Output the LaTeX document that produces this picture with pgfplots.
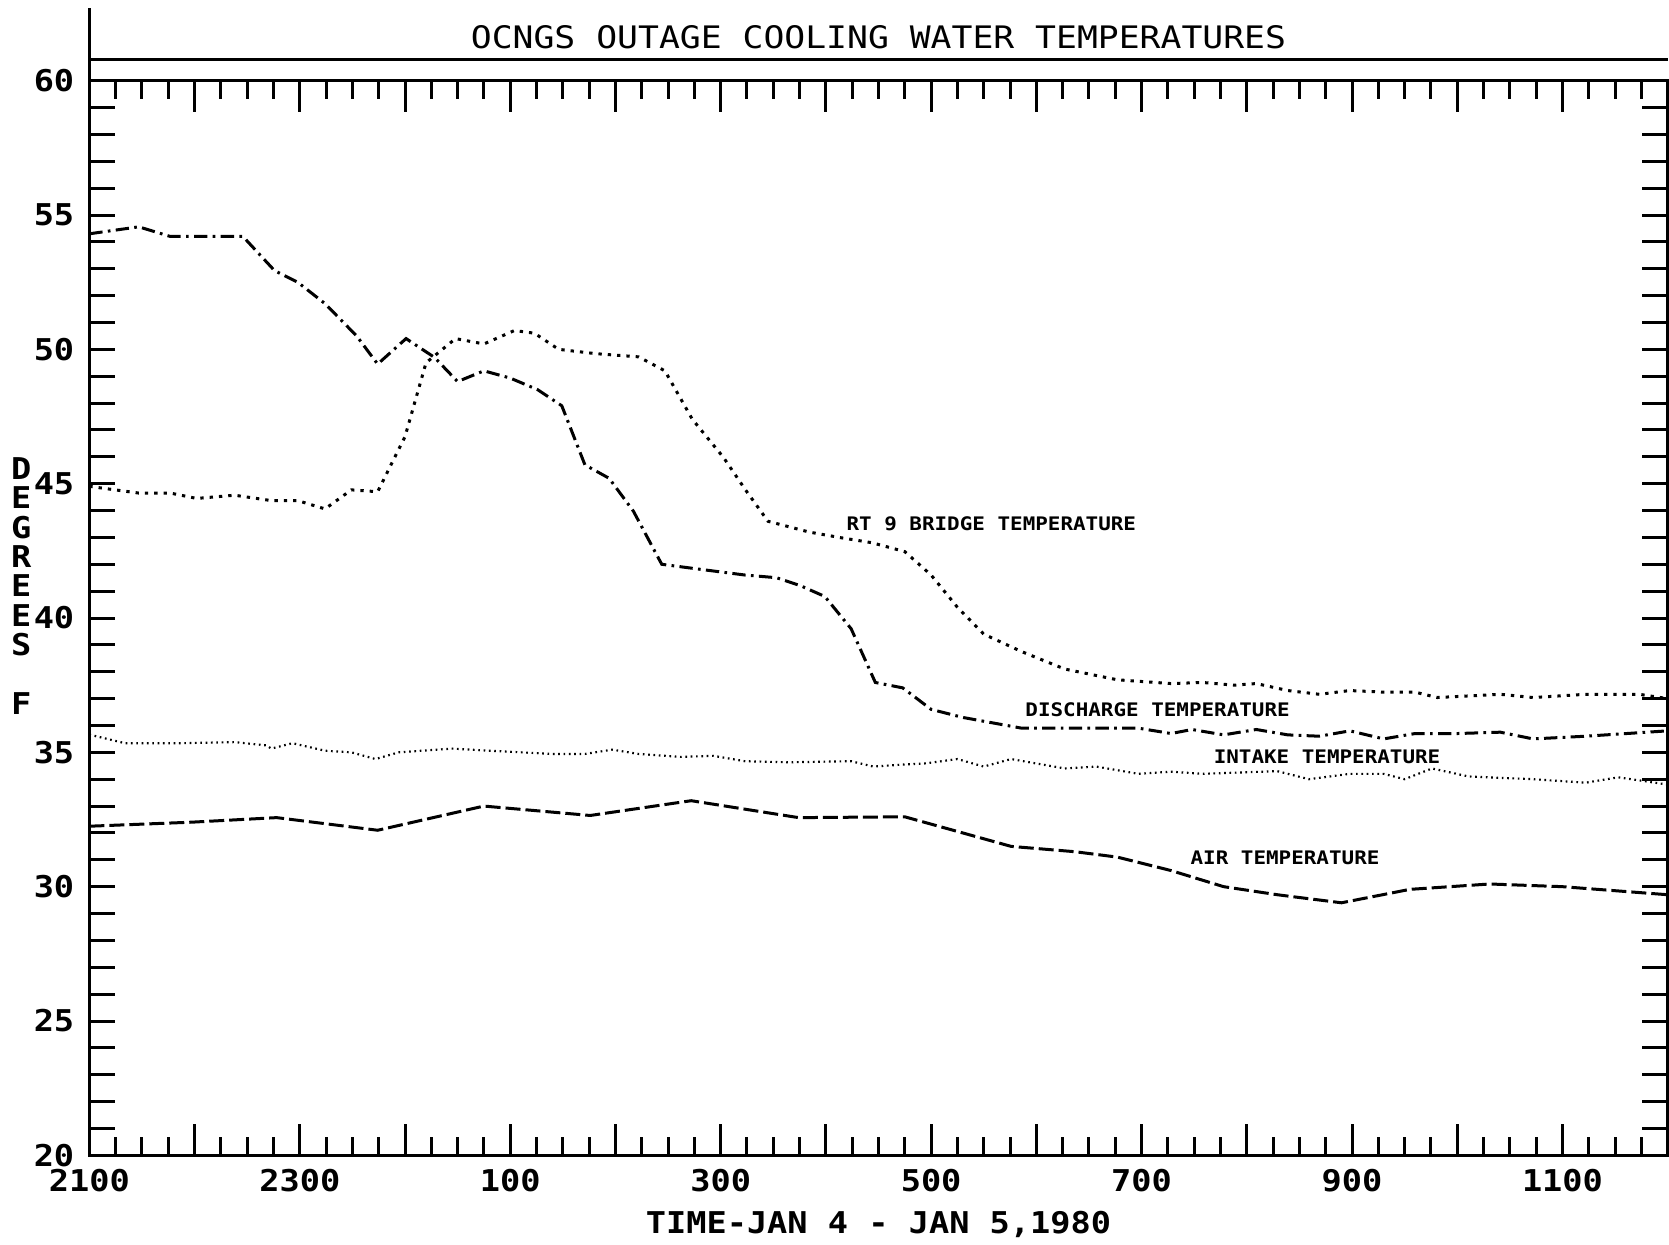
\documentclass[border=0pt]{standalone}
\usepackage{fontspec}
\setmainfont{DejaVu Sans Mono}[FakeStretch=1.12]
\usepackage{pgfplots}
\pgfplotsset{compat=1.18}

\pgfplotstableread{
x y
0 54.3
0.47 54.56
0.77 54.2
1.46 54.2
1.76 52.93
1.98 52.5
2.24 51.7
2.54 50.5
2.74 49.45
3.01 50.4
3.28 49.7
3.5 48.8
3.75 49.2
4.0 48.93
4.26 48.5
4.49 47.9
4.71 45.7
4.94 45.2
5.17 43.98
5.44 42.0
5.83 41.8
6.23 41.6
6.53 41.5
6.76 41.2
6.99 40.8
7.24 39.6
7.47 37.6
7.73 37.4
8.0 36.6
8.3 36.3
8.86 35.9
9.27 35.9
9.97 35.9
10.28 35.7
10.48 35.85
10.78 35.65
11.09 35.85
11.39 35.65
11.69 35.6
11.98 35.8
12.3 35.5
12.6 35.7
13.0 35.7
13.41 35.75
13.72 35.5
14.22 35.6
15.0 35.8
}\discharge

\pgfplotstableread{
x y
0 44.9
0.47 44.65
0.77 44.65
1.02 44.45
1.38 44.57
1.73 44.37
1.98 44.37
2.24 44.06
2.49 44.77
2.74 44.7
3.0 46.75
3.2 49.5
3.48 50.4
3.75 50.2
4.04 50.7
4.23 50.6
4.46 50.0
4.81 49.84
5.22 49.72
5.47 49.2
5.73 47.4
6.03 45.96
6.23 44.8
6.45 43.6
6.84 43.2
7.14 42.99
7.44 42.8
7.75 42.47
8.0 41.6
8.25 40.4
8.5 39.4
8.86 38.75
9.27 38.1
9.77 37.7
10.28 37.56
10.58 37.6
10.88 37.5
11.09 37.56
11.39 37.3
11.69 37.16
11.98 37.3
12.3 37.24
12.6 37.24
12.81 37.04
13.11 37.1
13.41 37.16
13.72 37.04
14.22 37.16
14.73 37.16
15.0 37.0
}\bridge

\pgfplotstableread{
x y
0 35.66
0.34 35.34
0.87 35.34
1.38 35.38
1.68 35.26
1.73 35.14
1.93 35.34
2.24 35.06
2.49 35.0
2.72 34.75
2.94 35.0
3.45 35.14
3.8 35.06
4.41 34.94
4.71 34.94
4.97 35.1
5.22 34.94
5.62 34.83
5.93 34.87
6.23 34.67
6.64 34.63
7.24 34.67
7.45 34.47
7.75 34.55
7.95 34.59
8.25 34.75
8.5 34.47
8.76 34.75
9.27 34.4
9.57 34.47
9.97 34.2
10.28 34.28
10.58 34.2
11.29 34.3
11.59 34.0
11.98 34.2
12.3 34.2
12.5 34.0
12.76 34.4
13.11 34.1
13.72 34.0
14.22 33.87
14.53 34.07
15.0 33.8
}\intake

\pgfplotstableread{
x y
0 32.25
0.97 32.4
1.78 32.57
2.74 32.1
3.75 33.0
4.76 32.65
5.72 33.2
6.74 32.57
7.75 32.6
8.76 31.5
9.37 31.3
9.77 31.1
10.28 30.6
10.78 30.0
11.29 29.7
11.9 29.4
12.55 29.9
13.31 30.1
14.0 30.0
15.0 29.7
}\air

\begin{document}
\begin{tikzpicture}
\useasboundingbox (0,0) rectangle (500.7pt,373.2pt);
\begin{axis}[
  at={(26.8pt,26.6pt)}, anchor=south west,
  scale only axis, width=473.5pt, height=322.4pt,
  xmin=0, xmax=15, ymin=20, ymax=60,
  clip=false,
  axis line style={line width=1pt},
  every tick/.style={black, line width=0.9pt},
  major tick length=9.5pt, minor tick length=5.5pt,
  xtick={0,1,2,3,4,5,6,7,8,9,10,11,12,13,14,15},
  xticklabels={2100,,2300,,100,,300,,500,,700,,900,,1100,},
  minor x tick num=3,
  ytick=\empty,
  extra y ticks={20,21,22,23,24,25,26,27,28,29,30,31,32,33,34,35,36,37,38,39,40,41,42,43,44,45,46,47,48,49,50,51,52,53,54,55,56,57,58,59,60},
  extra y tick labels={20,,,,,25,,,,,30,,,,,35,,,,,40,,,,,45,,,,,50,,,,,55,,,,,60},
  extra y tick style={major tick length=7.6pt},
  /pgf/number format/assume math mode=true,
  xticklabel style={font=\bfseries\fontsize{9}{10}\selectfont, yshift=-0.5pt},
  yticklabel style={font=\bfseries\fontsize{9}{10}\selectfont, xshift=-1pt},
]
\addplot[black, line width=0.9pt, dash pattern=on 4pt off 1.6pt on 0.8pt off 1.6pt] table {\discharge};
\addplot[black, line width=0.9pt, dash pattern=on 1pt off 1.8pt] table {\bridge};
\addplot[black, line width=0.65pt, dash pattern=on 0.5pt off 1.1pt] table {\intake};
\addplot[black, line width=0.9pt, dash pattern=on 4.5pt off 1.5pt] table {\air};

\draw[line width=1pt] (axis cs:0,60.78) -- (axis cs:15,60.78);
\draw[line width=1pt] (axis cs:0,60) -- (axis cs:0,62.7);
\node[font=\fontsize{9.3}{11}\selectfont] at (axis cs:7.5,61.6) {OCNGS OUTAGE COOLING WATER TEMPERATURES};
\node[font=\bfseries\fontsize{9}{10}\selectfont] at (axis cs:7.5,17.43) {TIME-JAN 4 - JAN 5,1980};
\node[font=\bfseries\fontsize{9}{8.8}\selectfont, align=center] at (axis cs:-0.647,41.2) {D\\E\\G\\R\\E\\E\\S\\[8.8pt]F};

\node[font=\bfseries\fontsize{5.6}{6}\selectfont, anchor=west, inner sep=0pt] at (axis cs:7.19,43.5) {RT 9 BRIDGE TEMPERATURE};
\node[font=\bfseries\fontsize{5.6}{6}\selectfont, anchor=west, inner sep=0pt] at (axis cs:8.89,36.6) {DISCHARGE TEMPERATURE};
\node[font=\bfseries\fontsize{5.6}{6}\selectfont, anchor=west, inner sep=0pt] at (axis cs:10.68,34.83) {INTAKE TEMPERATURE};
\node[font=\bfseries\fontsize{5.6}{6}\selectfont, anchor=west, inner sep=0pt] at (axis cs:10.46,31.06) {AIR TEMPERATURE};
\end{axis}
\end{tikzpicture}
\end{document}
